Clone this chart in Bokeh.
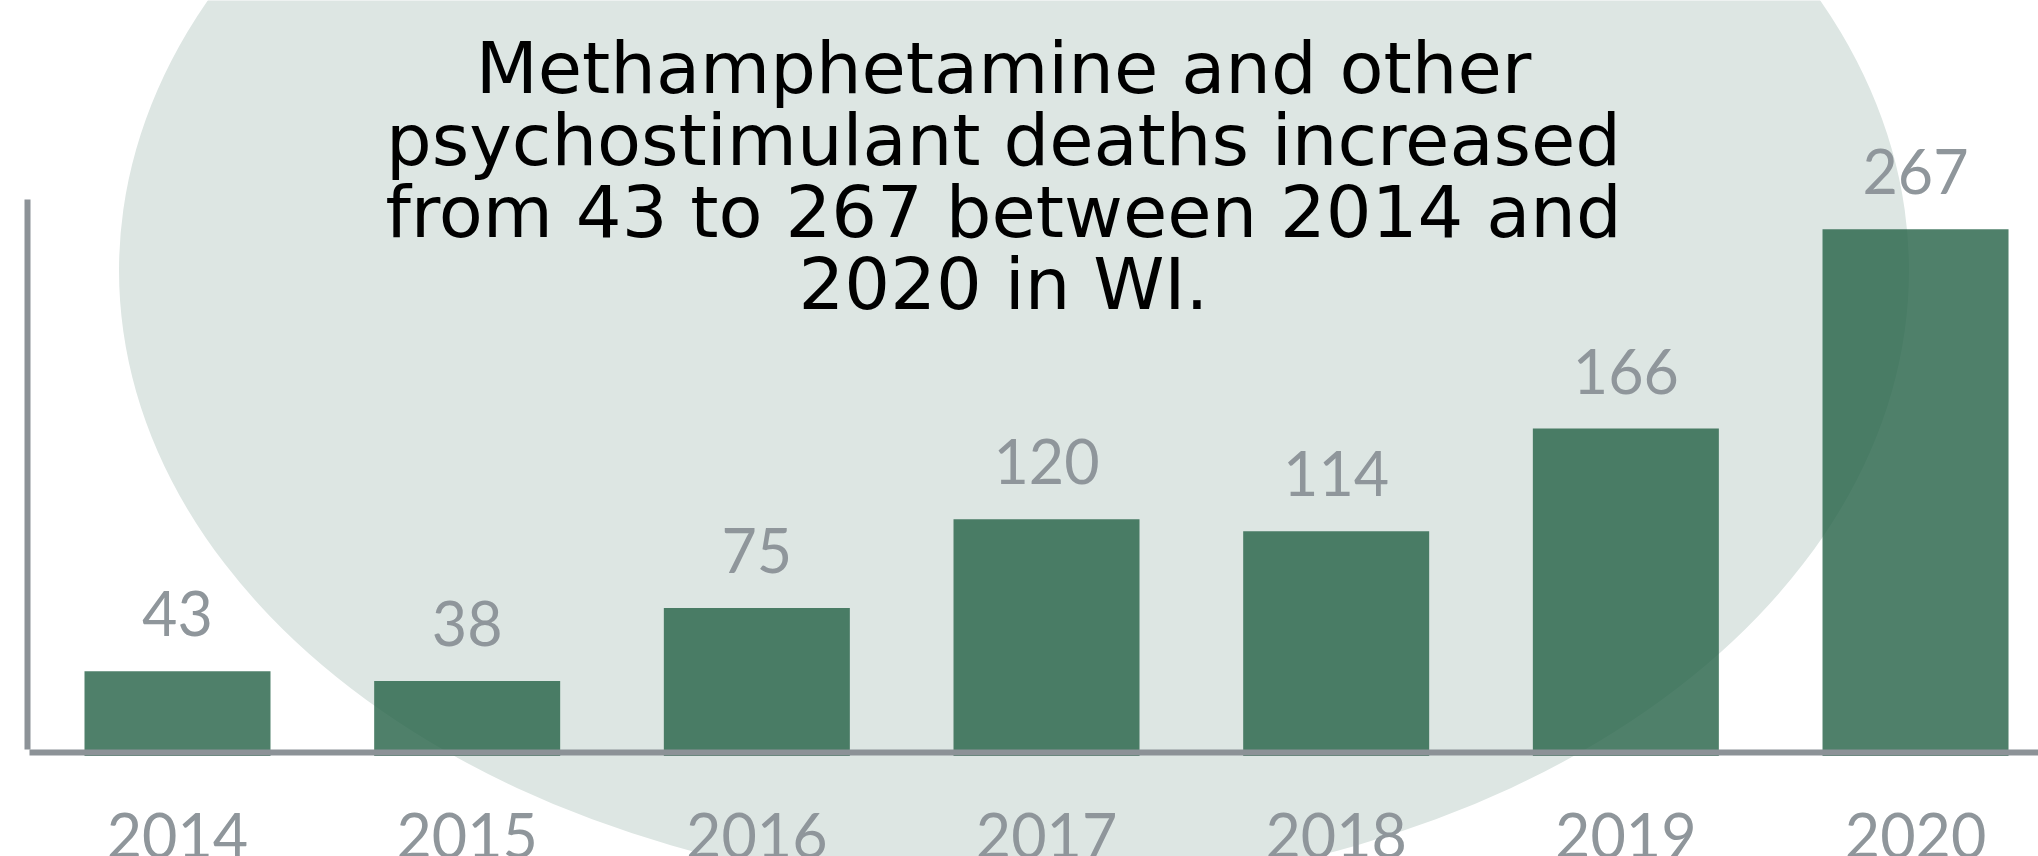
from bokeh.plotting import figure
from bokeh.models import (Range1d, LinearAxis, FixedTicker, ColumnDataSource,
                          LabelSet, Label)
from bokeh.core.properties import value
from bokeh.embed import file_html
from bokeh.resources import INLINE

# ---- data ----
years = [2014, 2015, 2016, 2017, 2018, 2019, 2020]
deaths = [43, 38, 75, 120, 114, 166, 267]
value_labels = [str(v) for v in deaths]
year_labels = [str(y) for y in years]
title_lines = [
    "Methamphetamine and other",
    "psychostimulant deaths increased",
    "from 43 to 267 between 2014 and",
    "2020 in WI.",
]

# ---- geometry (pixels) ----
W, H = 2038, 856
px_per_year = 289.67
first_center_px = 177.0
px_per_death = 1.9725
zero_py = 755.5

x0 = years[0] - first_center_px / px_per_year
x1 = x0 + W / px_per_year
y1 = zero_py / px_per_death
y0 = -(H - zero_py) / px_per_death


def xd(px):
    return x0 + px / px_per_year


def yd(py):
    return (zero_py - py) / px_per_death


GRAY_TXT = "#8f969b"
GRAY_AX = "#8c9297"

p = figure(width=W, height=H, x_range=Range1d(x0, x1), y_range=Range1d(y0, y1),
           output_backend="svg", toolbar_location=None,
           x_axis_location=None, y_axis_location=None, min_border=0,
           outline_line_color=None, background_fill_color="white",
           border_fill_color="white")
p.grid.visible = False

# background ellipse
p.ellipse(x=xd(1013.5), y=yd(270), width=1790, height=1245,
          width_units="screen", height_units="screen",
          fill_color="#dde6e3", line_color=None)

source = ColumnDataSource(dict(year=years, deaths=deaths, label=value_labels))
p.vbar(x="year", top="deaths", bottom=0, width=186 / px_per_year, source=source,
       fill_color="#286449", fill_alpha=0.82, line_color=None)

p.add_layout(LabelSet(x="year", y="deaths", text="label", source=source,
                      y_offset=35, text_align="center", text_baseline="alphabetic",
                      text_font=value("Lato"), text_font_size=value("61px"),
                      text_color=GRAY_TXT))

xaxis = LinearAxis(fixed_location=yd(752), ticker=FixedTicker(ticks=years),
                   bounds=(xd(29), x1),
                   axis_line_color=GRAY_AX, axis_line_width=6,
                   major_tick_line_color=None, minor_tick_line_color=None,
                   major_tick_out=0, major_tick_in=0, major_label_standoff=60,
                   major_label_text_font="Lato", major_label_text_font_size="61px",
                   major_label_text_color=GRAY_TXT,
                   major_label_overrides={y: s for y, s in zip(years, year_labels)})
p.add_layout(xaxis, "below")

yaxis = LinearAxis(fixed_location=xd(27), ticker=FixedTicker(ticks=[]),
                   bounds=(yd(749), yd(199)),
                   axis_line_color=GRAY_AX, axis_line_width=6,
                   major_tick_line_color=None, minor_tick_line_color=None,
                   major_tick_out=0, major_tick_in=0,
                   major_label_text_font_size="0px")
p.add_layout(yaxis, "left")

for i, line in enumerate(title_lines):
    p.add_layout(Label(x=1003, y=H - (67 + 72 * i), x_units="screen", y_units="screen",
                       text=line, text_align="center", text_baseline="alphabetic",
                       text_font="DejaVu Sans", text_font_size="72px",
                       text_color="#000000"))

open("out.html", "w").write(file_html(p, INLINE))
